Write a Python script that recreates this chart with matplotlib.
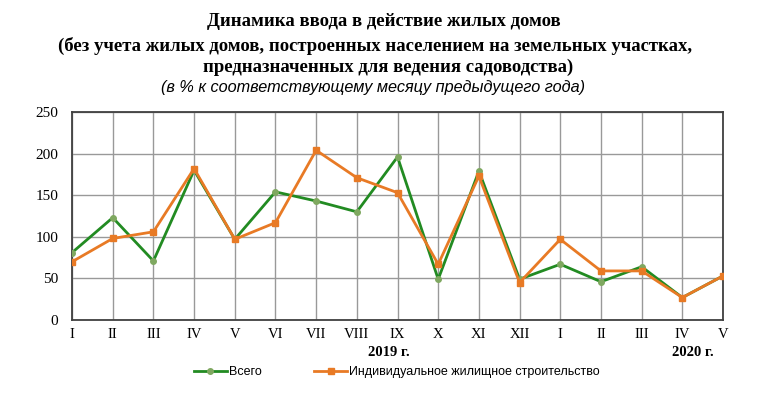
import matplotlib.pyplot as plt

months = ["I", "II", "III", "IV", "V", "VI", "VII", "VIII", "IX", "X", "XI", "XII",
          "I", "II", "III", "IV", "V"]
total = [81, 123, 71, 180, 97, 154, 143, 130, 196, 49, 179, 49, 67, 46, 64, 27, 53]
individual = [70, 98, 106, 182, 97, 117, 204, 171, 153, 67, 173, 45, 97, 59, 59, 27, 53]

green = "#228B22"
green_mk = "#7FA860"
orange = "#E87A25"

fig = plt.figure(figsize=(7.59, 3.96), dpi=100)
ax = fig.add_axes([0.0949, 0.1919, 0.8577, 0.5253])

x = list(range(len(months)))
ax.plot(x, total, color=green, lw=2, marker="o", ms=4,
        mfc=green_mk, mec=green_mk, label="Всего", zorder=3)
ax.plot(x, individual, color=orange, lw=2, marker="s", ms=5,
        mfc=orange, mec=orange, label="Индивидуальное жилищное строительство", zorder=4)

ax.set_xlim(0, len(months) - 1)
ax.set_ylim(0, 250)
ax.set_yticks(range(0, 251, 50))
ax.set_xticks(x)
ax.set_xticklabels(months, family="Liberation Serif", fontsize=10.5)
for lab in ax.get_yticklabels():
    lab.set_family("Liberation Serif")
    lab.set_fontsize(11)
ax.tick_params(axis="x", length=0, pad=6)
ax.tick_params(axis="y", length=0, pad=10)
ax.grid(True, color="#999999", lw=1)
ax.set_axisbelow(True)
for s in ax.spines.values():
    s.set_color("#404040")
    s.set_linewidth(1.3)

fig.text(0.512, 0.111, "2019 г.", ha="center", va="center", family="Liberation Serif",
         fontweight="bold", fontsize=10.5)
fig.text(0.913, 0.111, "2020 г.", ha="center", va="center", family="Liberation Serif",
         fontweight="bold", fontsize=10.5)

fig.text(0.506, 0.945, "Динамика ввода в действие жилых домов", ha="center", va="center",
         family="Liberation Serif", fontweight="bold", fontsize=13.5)
fig.text(0.494, 0.884, "(без учета жилых домов, построенных населением на земельных участках,",
         ha="center", va="center", family="Liberation Serif", fontweight="bold", fontsize=13.5)
fig.text(0.511, 0.831, "предназначенных для ведения садоводства)", ha="center", va="center",
         family="Liberation Serif", fontweight="bold", fontsize=13.5)
fig.text(0.491, 0.778, "(в % к соответствующему месяцу предыдущего года)", ha="center",
         va="center", family="Liberation Sans", style="italic", fontsize=11.7)

leg = fig.legend(loc="center", bbox_to_anchor=(0.523, 0.06), ncol=2, frameon=False,
                 prop={"family": "Liberation Sans", "size": 9},
                 handlelength=2.6, handletextpad=0.2, columnspacing=4.2)

fig.savefig("out.png", dpi=100)
